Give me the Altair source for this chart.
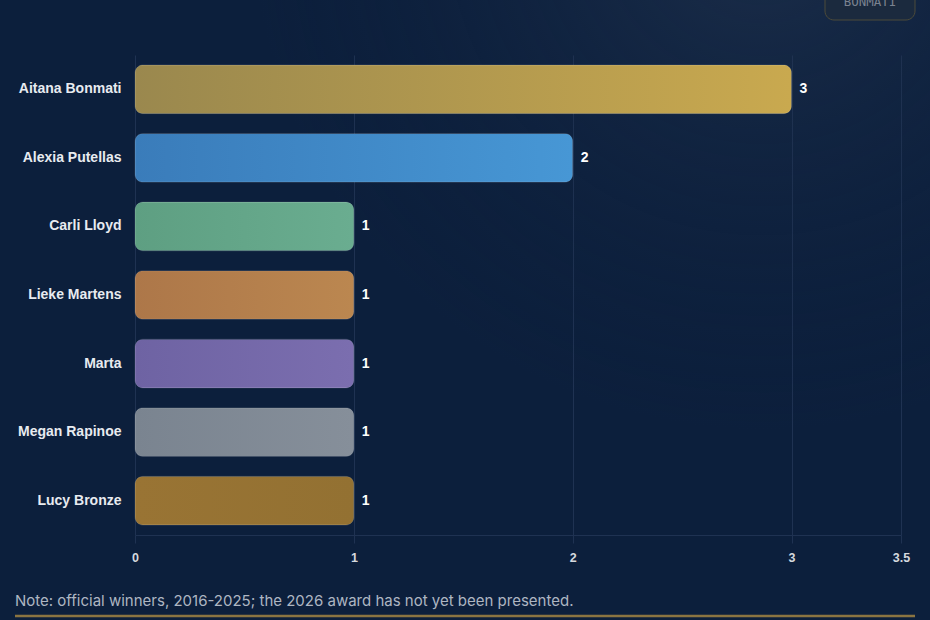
import altair as alt
import pandas as pd

names = ["Aitana Bonmati", "Alexia Putellas", "Carli Lloyd", "Lieke Martens",
         "Marta", "Megan Rapinoe", "Lucy Bronze"]
wins = [3, 2, 1, 1, 1, 1, 1]
color_left = ["#9a884e", "#3a7cba", "#5e9f82", "#ad7749", "#6e63a3", "#7a8490", "#997434"]
color_right = ["#c9a94f", "#4797d5", "#6aad90", "#bb8750", "#7b6eaf", "#868f9a", "#937132"]

note = "Note: official winners, 2016-2025; the 2026 award has not yet been presented."
badge = "BONMATI"

df = pd.DataFrame({"name": names, "wins": wins})

BG = "#0c1f3c"
GRID = "#1f3252"

x_enc = alt.X("wins:Q", scale=alt.Scale(domain=[0, 3.5], nice=False),
              axis=alt.Axis(values=[0, 1, 2, 3, 3.5], format="~g", title=None,
                            grid=True, gridColor=GRID, gridWidth=1,
                            domain=True, domainColor=GRID, ticks=True, tickColor=GRID,
                            tickSize=8, labelFlush=False,
                            labelColor="#d5d9df", labelFont="Liberation Sans",
                            labelFontWeight="bold", labelFontSize=12.5, labelPadding=8))
y_enc = alt.Y("name:N", sort=names,
              scale=alt.Scale(paddingInner=0.29, paddingOuter=0.145),
              axis=alt.Axis(title=None, domain=False, ticks=False, grid=False,
                            labelColor="#e8ebf0", labelFont="Liberation Sans",
                            labelFontWeight="bold", labelFontSize=14, labelPadding=14))

base = alt.Chart(df).encode(x=x_enc, y=y_enc)

glow = alt.Chart(pd.DataFrame({"a": [0]})).mark_rect(
    color=alt.Gradient(gradient="radial", x1=0.82, y1=0.08, r1=0,
                       x2=0.82, y2=0.08, r2=0.55,
                       stops=[alt.GradientStop(color="rgba(40,58,85,0.55)", offset=0),
                              alt.GradientStop(color="rgba(12,31,60,0)", offset=1)])
).encode(x=alt.value(-135), x2=alt.value(795), y=alt.value(-55), y2=alt.value(565))

layers = [glow]
for n, cl, cr in zip(names, color_left, color_right):
    layers.append(
        base.transform_filter(alt.datum.name == n).mark_bar(
            cornerRadius=8,
            stroke="rgba(255,255,255,0.12)", strokeWidth=1,
            color=alt.Gradient(gradient="linear", x1=0, x2=1, y1=0, y2=0,
                               stops=[alt.GradientStop(color=cl, offset=0),
                                      alt.GradientStop(color=cr, offset=1)])
        )
    )

labels = base.mark_text(align="left", baseline="middle", dx=8, color="#ffffff",
                        font="Liberation Sans", fontWeight="bold", fontSize=14).encode(
    text=alt.Text("wins:Q"))

note_text = alt.Chart(pd.DataFrame({"t": [note]})).mark_text(
    align="left", baseline="middle", color="#aeb6c2", font="Inter", fontSize=15
).encode(x=alt.value(-120), y=alt.value(546), text="t:N")

gold_line = alt.Chart(pd.DataFrame({"a": [0]})).mark_rule(
    color="#8a7441", strokeWidth=2.5
).encode(x=alt.value(-120), x2=alt.value(780), y=alt.value(561))

badge_rect = alt.Chart(pd.DataFrame({"a": [0]})).mark_rect(
    cornerRadius=9, fill="#1b2a3e", stroke="#4d4b3a", strokeWidth=1
).encode(x=alt.value(690), x2=alt.value(780), y=alt.value(-90), y2=alt.value(-35))

badge_text = alt.Chart(pd.DataFrame({"t": [badge]})).mark_text(
    align="center", baseline="alphabetic", color="#7a8290",
    font="DejaVu Sans Mono", fontSize=12.5
).encode(x=alt.value(735), y=alt.value(-49), text="t:N")

chart = alt.layer(*layers, labels, note_text, gold_line, badge_rect, badge_text).properties(
    width=766, height=480,
    background=BG,
    padding={"left": 135, "top": 55, "right": 29, "bottom": 85},
    autosize=alt.AutoSizeParams(type="none"),
).configure_view(stroke=None)

chart.save("out.html", embed_options={"renderer": "svg", "actions": False})
